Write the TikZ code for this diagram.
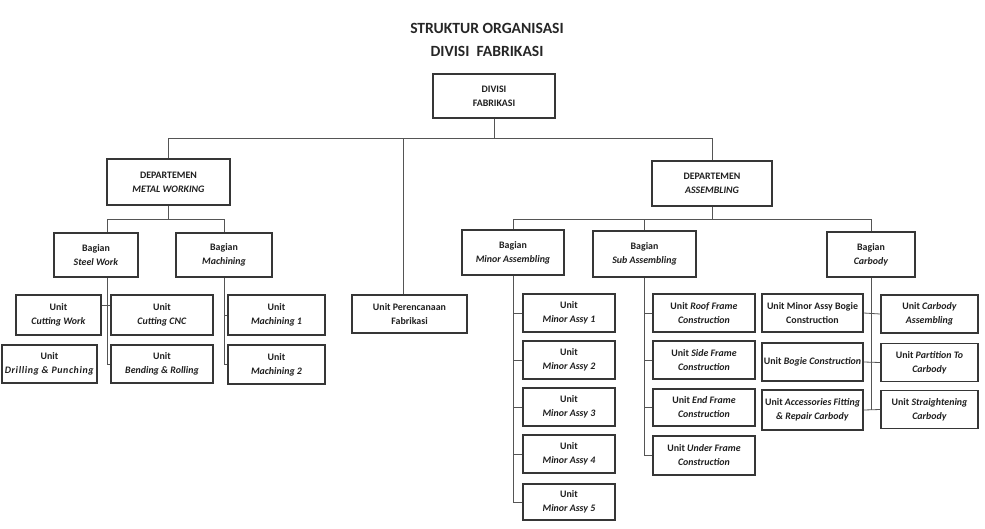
\documentclass[tikz,border=0pt]{standalone}
\usepackage{fontspec}
\setmainfont{Carlito}
\begin{document}
\begin{tikzpicture}[x=1pt,y=-1pt,
  box/.style={draw=boxline, line width=1.9pt, fill=white, align=center, inner sep=1pt,
    font=\bfseries\fontsize{9.9}{14}\selectfont, text=black!88},
  link/.style={draw=linkc, line width=0.8pt}]
\definecolor{boxline}{HTML}{363636}
\definecolor{linkc}{HTML}{555555}
\useasboundingbox (0,0) rectangle (985,528);

% title
\node[font=\bfseries\fontsize{15.6}{23}\selectfont, align=center, text=black!85] (title) at (487,40)
  {STRUKTUR ORGANISASI\\DIVISI\ \ FABRIKASI};

% top level
\node[box, minimum width=122pt, minimum height=44pt] (top) at (494,96) {DIVISI\\FABRIKASI};

% departments
\node[box, minimum width=123pt, minimum height=46pt] (mw) at (168.5,182) {DEPARTEMEN\\\textit{METAL WORKING}};
\node[box, minimum width=120pt, minimum height=45pt] (asm) at (712,183.5) {DEPARTEMEN\\\textit{ASSEMBLING}};
\node[box, minimum width=115pt, minimum height=38pt] (plan) at (409.5,314) {Unit Perencanaan\\Fabrikasi};

% metal working sections
\node[box, minimum width=84pt, minimum height=44pt] (steel) at (96,255) {Bagian\\\textit{Steel Work}};
\node[box, minimum width=96pt, minimum height=44pt] (mach) at (224,255) {Bagian\\\textit{Machining}};

\node[box, minimum width=85pt, minimum height=40pt] (cutw) at (58.5,315) {Unit\\\textit{Cutting Work}};
\node[box, minimum width=102pt, minimum height=40pt] (cnc) at (162,315) {Unit\\\textit{Cutting CNC}};
\node[box, minimum width=95pt, minimum height=38pt] (drill) at (49.5,364) {Unit\\\textit{\addfontfeature{LetterSpace=6}Drilling \& Punching}};
\node[box, minimum width=102pt, minimum height=38pt] (bend) at (162,364) {Unit\\\textit{Bending \& Rolling}};
\node[box, minimum width=97pt, minimum height=40pt] (m1) at (276.5,315) {Unit\\\textit{Machining 1}};
\node[box, minimum width=97pt, minimum height=39pt] (m2) at (276.5,364.5) {Unit\\\textit{Machining 2}};

% assembling sections
\node[box, minimum width=102pt, minimum height=45pt] (minor) at (513,252.5) {Bagian\\\textit{Minor Assembling}};
\node[box, minimum width=103pt, minimum height=46pt] (sub) at (644.5,254) {Bagian\\\textit{Sub Assembling}};
\node[box, minimum width=88pt, minimum height=45pt] (carb) at (871,254.5) {Bagian\\\textit{Carbody}};

% minor assembling units
\node[box, minimum width=92pt, minimum height=38pt] (ma1) at (569,313) {Unit\\\textit{Minor Assy 1}};
\node[box, minimum width=92pt, minimum height=38pt] (ma2) at (569,360) {Unit\\\textit{Minor Assy 2}};
\node[box, minimum width=92pt, minimum height=38pt] (ma3) at (569,407) {Unit\\\textit{Minor Assy 3}};
\node[box, minimum width=92pt, minimum height=38pt] (ma4) at (569,454) {Unit\\\textit{Minor Assy 4}};
\node[box, minimum width=92pt, minimum height=36pt] (ma5) at (569,502) {Unit\\\textit{Minor Assy 5}};

% sub assembling units
\node[box, minimum width=102pt, minimum height=38pt] (sa1) at (704,313) {Unit \textit{Roof Frame}\\\textit{Construction}};
\node[box, minimum width=102pt, minimum height=38pt] (sa2) at (704,360) {Unit \textit{Side Frame}\\\textit{Construction}};
\node[box, minimum width=102pt, minimum height=37pt] (sa3) at (704,407.5) {Unit \textit{End Frame}\\\textit{Construction}};
\node[box, minimum width=102pt, minimum height=39pt] (sa4) at (704,455.5) {Unit \textit{Under Frame}\\\textit{Construction}};

% carbody units
\node[box, minimum width=101pt, minimum height=38pt] (cl1) at (812.5,313) {Unit Minor Assy Bogie\\Construction};
\node[box, minimum width=101pt, minimum height=38pt] (cl2) at (812.5,362) {Unit \textit{Bogie Construction}};
\node[box, minimum width=101pt, minimum height=40pt] (cl3) at (812.5,410) {Unit \textit{Accessories Fitting}\\\textit{\& Repair Carbody}};
\node[box, minimum width=97pt, minimum height=38pt] (cr1) at (929.5,314) {Unit \textit{Carbody}\\\textit{Assembling}};
\node[box, minimum width=97pt, minimum height=38pt] (cr2) at (929.5,362.5) {Unit \textit{Partition To}\\\textit{Carbody}};
\node[box, minimum width=97pt, minimum height=38pt] (cr3) at (929.5,409.5) {Unit \textit{Straightening}\\\textit{Carbody}};

% connector anchors
\coordinate (bus) at (0,138);
\coordinate (mwbus) at (0,219);
\coordinate (asmbus) at (0,219);
\coordinate (planin) at ([xshift=-6.5pt]plan.north);
\coordinate (steelout) at ([xshift=11pt]steel.south);

% division to departments
\draw[link] (top.south) -- (top.south |- bus);
\draw[link] (mw.north) -- (mw.north |- bus) -- (asm.north |- bus) -- (asm.north);
\draw[link] (planin) -- (planin |- bus);

% metal working
\draw[link] (mw.south) -- (mw.south |- mwbus);
\draw[link] (steelout |- steel.north) -- (steelout |- mwbus) -- (mach.north |- mwbus) -- (mach.north);
\draw[link] (steelout) -- (steelout |- bend.west) -- (bend.west);
\draw[link] ([yshift=10pt]cutw.east) -- ([yshift=10pt]cnc.west);
\draw[link] (mach.south) -- (mach.south |- m2.west) -- (m2.west);
\draw[link] (m1.west) -- (m1.west -| mach.south);

% assembling
\draw[link] (asm.south) -- (asm.south |- asmbus);
\draw[link] (minor.north) -- (minor.north |- asmbus) -- (carb.north |- asmbus) -- (carb.north);
\draw[link] (sub.north) -- (sub.north |- asmbus);

\draw[link] (minor.south) -- (minor.south |- ma5.west) -- (ma5.west);
\foreach \n in {ma1,ma2,ma3,ma4} \draw[link] (\n.west) -- (\n.west -| minor.south);

\draw[link] (sub.south) -- (sub.south |- sa4.west) -- (sa4.west);
\foreach \n in {sa1,sa2,sa3} \draw[link] (\n.west) -- (\n.west -| sub.south);

\draw[link] (carb.south) -- (carb.south |- cl3.east);
\draw[link] (cl1.east) -- (cr1.west);
\draw[link] (cl2.east) -- (cr2.west);
\draw[link] (cl3.east) -- (cr3.west);
\end{tikzpicture}
\end{document}
